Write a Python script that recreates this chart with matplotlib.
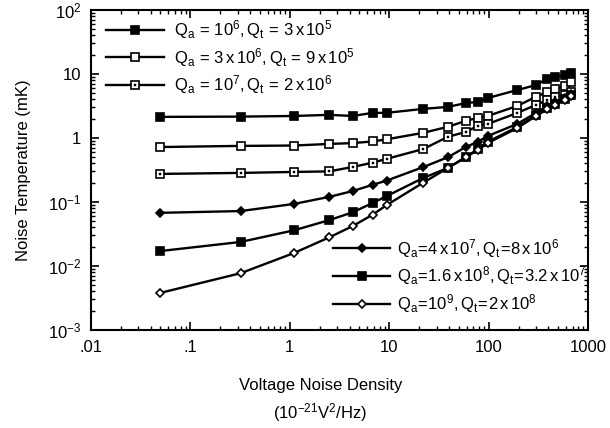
import numpy as np
import matplotlib
matplotlib.use('Agg')
import matplotlib.pyplot as plt
from matplotlib.legend_handler import HandlerTuple

#~~~~~~~~~~~~ Data ~~~~~~~~~~~~
vnd = [0.05, 0.32, 1.1, 2.5, 4.3, 6.8, 9.4, 22, 39, 59, 78, 98,
       195, 300, 390, 470, 580, 670]

t_q1e6 = [2.13, 2.15, 2.2, 2.29, 2.2, 2.46, 2.46, 2.84, 3.05, 3.5, 3.65, 4.2,
          5.6, 6.7, 8.4, 9.0, 9.6, 10.4]
t_q3e6 = [0.72, 0.75, 0.76, 0.805, 0.83, 0.88, 0.95, 1.2, 1.49, 1.85, 2.05, 2.2,
          3.16, 4.4, 5.2, 5.8, 6.5, 7.5]
t_q1e7 = [0.274, 0.284, 0.294, 0.30, 0.352, 0.41, 0.47, 0.67, 1.04, 1.24, 1.54, 1.65,
          2.46, 3.28, 3.9, 4.4, 4.7, 5.2]
t_q4e7 = [0.0676, 0.072, 0.093, 0.12, 0.148, 0.185, 0.215, 0.35, 0.50, 0.72, 0.87, 1.07,
          1.66, 2.46, 3.16, 3.65, 4.2, 4.9]
t_q16e8 = [0.0171, 0.0237, 0.036, 0.052, 0.069, 0.096, 0.123, 0.237, 0.34, 0.50, 0.67, 0.87,
           1.48, 2.3, 2.9, 3.4, 4.1, 4.7]
t_q1e9 = [0.0038, 0.0077, 0.0159, 0.028, 0.042, 0.063, 0.089, 0.20, 0.34, 0.50, 0.65, 0.83,
          1.43, 2.2, 2.8, 3.3, 3.9, 4.5]

xticks = [0.01, 0.1, 1, 10, 100, 1000]
xticklabels = ['.01', '.1', '1', '10', '100', '1000']
yticks = [1e-3, 1e-2, 1e-1, 1, 10, 100]
yticklabels = ['$10^{-3}$', '$10^{-2}$', '$10^{-1}$', '1', '10', '$10^{2}$']

lab1 = r'$\mathregular{Q_a\,=\,10^6, Q_t\,=\,3\,x\,10^5}$'
lab2 = r'$\mathregular{Q_a\,=\,3\,x\,10^6, Q_t\,=\,9\,x\,10^5}$'
lab3 = r'$\mathregular{Q_a\,=\,10^7, Q_t\,=\,2\,x\,10^6}$'
lab4 = r'$\mathregular{Q_a\!=\!4\,x\,10^7, Q_t\!=\!8\,x\,10^6}$'
lab5 = r'$\mathregular{Q_a\!=\!1.6\,x\,10^8, Q_t\!=\!3.2\,x\,10^7}$'
lab6 = r'$\mathregular{Q_a\!=\!10^9, Q_t\!=\!2\,x\,10^8}$'

#~~~~~~~~~~~~~~~~~~~~~~~~~~~~~~~~~~~~~~~~~~~~~~~~~~~

plt.rcParams['font.family'] = ['Liberation Sans', 'DejaVu Sans']
plt.rcParams['mathtext.fontset'] = 'custom'
plt.rcParams['mathtext.rm'] = 'Liberation Sans'
plt.rcParams['mathtext.it'] = 'Liberation Sans'
plt.rcParams['mathtext.bf'] = 'Liberation Sans:bold'
plt.rcParams['font.size'] = 12

fig = plt.figure(figsize=(6.10, 4.28), dpi=100)
ax = fig.add_axes([0.149, 0.229, 0.815, 0.748])

lw = 1.7
common = dict(color='black', linewidth=lw, markeredgecolor='black', markeredgewidth=1.2)

l1, = ax.plot(vnd, t_q1e6, marker='s', markersize=5.3, markerfacecolor='black', **common)
l2, = ax.plot(vnd, t_q3e6, marker='s', markersize=5.3, markerfacecolor='white', **common)
l3, = ax.plot(vnd, t_q1e7, marker='s', markersize=5.3, markerfacecolor='white', **common)
l3d, = ax.plot(vnd, t_q1e7, linestyle='none', marker='s', markersize=1.5,
               markerfacecolor='black', markeredgecolor='black', markeredgewidth=0.3)
l4, = ax.plot(vnd, t_q4e7, marker='D', markersize=4.2, markerfacecolor='black', **common)
l5, = ax.plot(vnd, t_q16e8, marker='s', markersize=5.8, markerfacecolor='black', **common)
l6, = ax.plot(vnd, t_q1e9, marker='D', markersize=4.2, markerfacecolor='white', **common)

ax.set_xscale('log')
ax.set_yscale('log')
ax.set_xlim(0.01, 1000)
ax.set_ylim(1e-3, 100)
ax.set_xticks(xticks)
ax.set_xticklabels(xticklabels)
ax.set_yticks(yticks)
ax.set_yticklabels(yticklabels)

ax.tick_params(which='both', direction='in', top=True, right=True, labelsize=12)
ax.tick_params(which='major', length=6, width=1.2, pad=7)
ax.tick_params(which='minor', length=3, width=1.0)
for s in ax.spines.values():
    s.set_linewidth(1.5)

ax.set_ylabel('Noise Temperature (mK)', fontsize=12, labelpad=12)
fig.text(0.525, 0.10, 'Voltage Noise Density', ha='center', va='center', fontsize=12)
fig.text(0.525, 0.037, r'(10$^{\mathregular{-21}}$V$^{\mathregular{2}}$/Hz)', ha='center',
         va='center', fontsize=12)

leg1 = ax.legend([l1, l2, (l3, l3d)], [lab1, lab2, lab3], loc='upper left',
                 bbox_to_anchor=(0.0, 1.02), frameon=False, fontsize=12,
                 handlelength=3.5, handletextpad=0.6, labelspacing=0.28,
                 handler_map={tuple: HandlerTuple(ndivide=1)})
ax.add_artist(leg1)
ax.legend([l4, l5, l6], [lab4, lab5, lab6], loc='lower right',
          bbox_to_anchor=(1.027, 0.0), frameon=False, fontsize=12,
          handlelength=3.4, handletextpad=0.4, labelspacing=0.28)

fig.savefig('out.png', dpi=100)
